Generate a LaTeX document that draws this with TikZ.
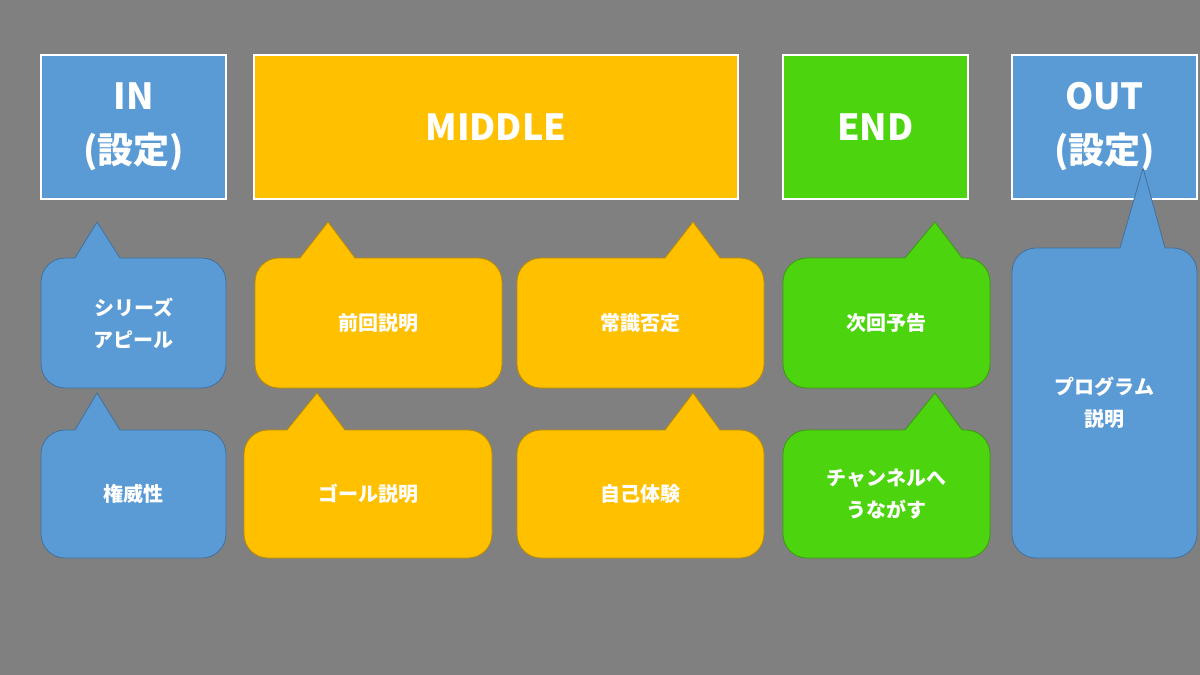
\documentclass[tikz,border=0pt]{standalone}
\usepackage{fontspec}
\setmainfont{Noto Sans CJK JP}
\begin{document}
\begin{tikzpicture}[x=1pt,y=-1pt,
  title/.style={font=\fontsize{36}{54}\selectfont\bfseries, text=white, align=center},
  lab/.style={font=\fontsize{20}{32}\selectfont\bfseries, text=white, align=center},
  head/.style={draw=white, line width=1.5pt}]
\definecolor{bg}{HTML}{808080}
\definecolor{cblue}{HTML}{5B9BD5}
\definecolor{corange}{HTML}{FFC000}
\definecolor{cgreen}{HTML}{4CD50E}
\definecolor{lblue}{HTML}{41719C}
\definecolor{lorange}{HTML}{BC8C00}
\definecolor{lgreen}{HTML}{3A9A10}
\useasboundingbox (0,0) rectangle (1200,675);
\fill[bg] (0,0) rectangle (1200,675);
% headers
\draw[head, fill=cblue] (41,55) rectangle (226,199);
\node[title] (in) at (133.5,127) {IN\\(設定)};
\draw[head, fill=corange] (254,55) rectangle (738,199);
\node[title] (mid) at (496,127) {MIDDLE};
\draw[head, fill=cgreen] (783,55) rectangle (968,199);
\node[title] (end) at (875.5,127) {END};
\draw[head, fill=cblue] (1012,55) rectangle (1197,199);
\node[title] (out) at (1104.5,127) {OUT\\(設定)};
% callouts: #1 x1, #2 y1, #3 x2, #4 y2, #5 b1, #6 b2, #7 ax, #8 ay, #9 colour
\newcommand\mycallout[9]{%
  \filldraw[fill=c#9, draw=l#9, line width=0.8pt]
    (#5,#2) -- (#7,#8) -- (#6,#2) [rounded corners=24] -- (#3,#2) -- (#3,#4)
    -- (#1,#4) -- (#1,#2) [sharp corners] -- cycle;}
\mycallout{41}{258}{226}{388}{75}{120}{97}{222}{blue}
\node[lab] (a1) at (133.5,323) {シリーズ\\アピール};
\mycallout{41}{430}{226}{558}{75}{120}{97}{393}{blue}
\node[lab] (a2) at (133.5,494) {権威性};
\mycallout{255}{258}{502}{388}{300}{355}{328}{222}{orange}
\node[lab] (b1) at (378.5,323) {前回説明};
\mycallout{517}{258}{764}{388}{665}{720}{693}{222}{orange}
\node[lab] (c1) at (640.5,323) {常識否定};
\mycallout{244}{430}{492}{558}{287}{345}{317}{393}{orange}
\node[lab] (b2) at (368,494) {ゴール説明};
\mycallout{517}{430}{764}{558}{665}{720}{693}{393}{orange}
\node[lab] (c2) at (640.5,494) {自己体験};
\mycallout{783}{258}{990}{388}{905}{962}{935}{222}{green}
\node[lab] (d1) at (886.5,323) {次回予告};
\mycallout{783}{430}{990}{558}{905}{962}{935}{393}{green}
\node[lab] (d2) at (886.5,494) {チャンネルへ\\うながす};
\mycallout{1012}{248}{1197}{558}{1120}{1165}{1143}{168}{blue}
\node[lab] (e1) at (1104.5,403) {プログラム\\説明};
\end{tikzpicture}
\end{document}
